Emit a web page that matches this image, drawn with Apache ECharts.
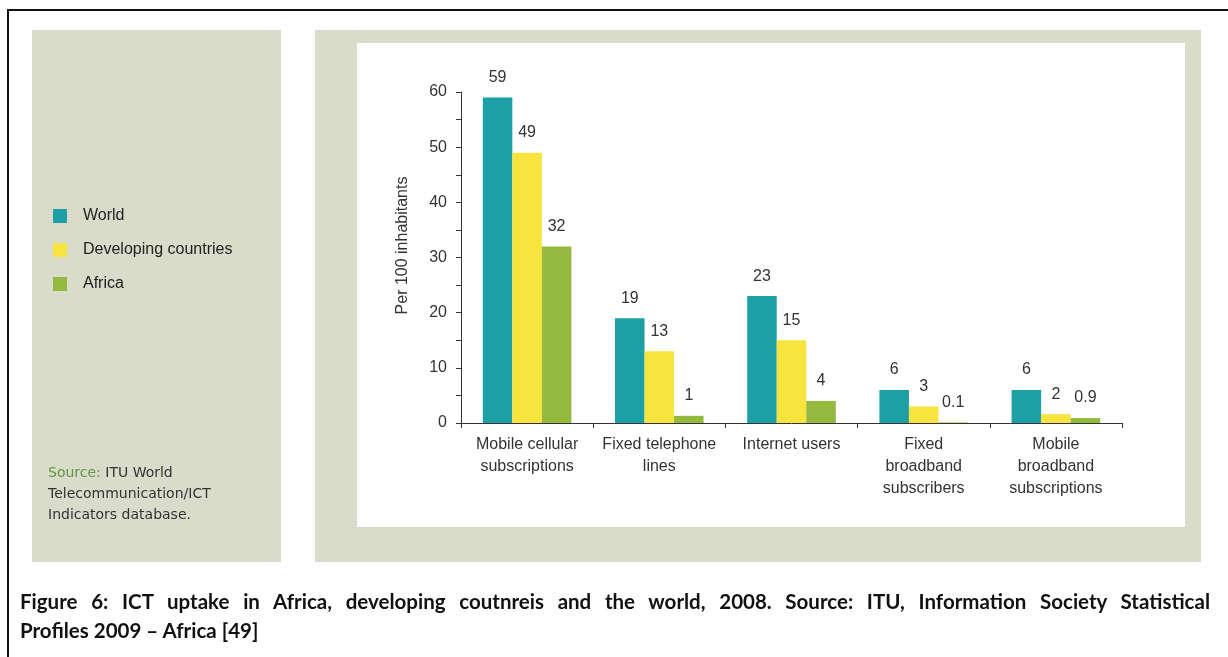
<!DOCTYPE html>
<html>
<head>
<meta charset="utf-8">
<script src="https://cdn.jsdelivr.net/npm/echarts@6/dist/echarts.min.js"></script>
<style>
html,body{margin:0;padding:0;background:#fff;}
#wrap{position:relative;width:1228px;height:657px;overflow:hidden;}
#c{position:absolute;left:0;top:0;width:1228px;height:657px;}
#cap{position:absolute;left:20px;top:587px;width:1190px;font-family:Lato,"Open Sans",sans-serif;font-weight:bold;font-size:20.5px;line-height:29px;color:#111;}
#cap .l1{text-align:justify;text-align-last:justify;}
</style>
</head>
<body>
<div id="wrap">
<div id="c"></div>
<div id="cap"><div class="l1" id="cap1"></div><div id="cap2"></div></div>
</div>
<script>
var categories = ['Mobile cellular\nsubscriptions', 'Fixed telephone\nlines', 'Internet users', 'Fixed\nbroadband\nsubscribers', 'Mobile\nbroadband\nsubscriptions'];
var seriesNames = ['World', 'Developing countries', 'Africa'];
var worldValues = [59, 19, 23, 6, 6];
var developingValues = [49, 13, 15, 3, 1.6];
var africaValues = [32, 1.3, 4, 0.1, 0.9];
var worldLabels = ['59', '19', '23', '6', '6'];
var developingLabels = ['49', '13', '15', '3', '2'];
var africaLabels = ['32', '1', '4', '0.1', '0.9'];
var yTicks = [0, 10, 20, 30, 40, 50, 60];
var captionLine1 = 'Figure 6: ICT uptake in Africa, developing coutnreis and the world, 2008. Source: ITU, Information Society Statistical';
var captionLine2 = 'Profiles 2009 \u2013 Africa [49]';

document.getElementById('cap1').textContent = captionLine1;
document.getElementById('cap2').textContent = captionLine2;

var colors = ['#1c9fa5', '#f7e43e', '#95b93e'];
var FONT = '"Liberation Sans Narrow", "Liberation Sans", Arial, sans-serif';

function makeSeries(name, values, labels, color) {
  return {
    name: name,
    type: 'bar',
    data: values,
    barGap: '0%',
    barCategoryGap: '33%',
    itemStyle: { color: color },
    label: {
      show: true,
      position: 'top',
      distance: 12,
      fontFamily: FONT,
      fontSize: 16,
      color: '#333',
      formatter: function (p) { return labels[p.dataIndex]; }
    }
  };
}

var chart = echarts.init(document.getElementById('c'), null, { renderer: 'canvas' });
chart.setOption({
  animation: false,
  backgroundColor: 'transparent',
  color: colors,
  graphic: [
    { type: 'rect', z: -10, shape: { x: 8, y: 10, width: 1260, height: 700 }, style: { fill: '#fff', stroke: '#111', lineWidth: 2 } },
    { type: 'rect', z: -9, shape: { x: 32, y: 30, width: 249, height: 532 }, style: { fill: '#d9dccb' } },
    { type: 'rect', z: -9, shape: { x: 315, y: 30, width: 886, height: 532 }, style: { fill: '#d9dccb' } },
    { type: 'rect', z: -8, shape: { x: 357, y: 43, width: 828, height: 484 }, style: { fill: '#fff' } },
    { type: 'text', left: 48, top: 463, style: { text: '{g|Source:} ITU World\nTelecommunication/ICT\nIndicators database.', fontFamily: '"DejaVu Sans", Verdana, sans-serif', fontSize: 14, lineHeight: 21, fill: '#333',
      rich: { g: { fill: '#5f9640', fontFamily: '"DejaVu Sans", Verdana, sans-serif', fontSize: 14 } } } }
  ],
  legend: {
    orient: 'vertical',
    left: 53,
    top: 208,
    padding: 0,
    itemWidth: 14,
    itemHeight: 14,
    itemGap: 18,
    icon: 'rect',
    data: seriesNames,
    textStyle: { fontFamily: FONT, fontSize: 16, color: '#222', padding: [0, 0, 0, 11] }
  },
  grid: { left: 461, right: 106, top: 92, bottom: 234, containLabel: false },
  xAxis: {
    type: 'category',
    data: categories,
    axisLine: { lineStyle: { color: '#333', width: 1 } },
    axisTick: { show: true, length: 5, lineStyle: { color: '#333' } },
    axisLabel: { fontFamily: FONT, fontSize: 16, lineHeight: 22, color: '#333', margin: 11, interval: 0 }
  },
  yAxis: {
    type: 'value',
    min: yTicks[0],
    max: yTicks[yTicks.length - 1],
    interval: 10,
    name: 'Per 100 inhabitants',
    nameLocation: 'middle',
    nameRotate: 90,
    nameGap: 50,
    nameTextStyle: { fontFamily: FONT, fontSize: 16, color: '#333', padding: [0, 0, 0, 24] },
    axisLine: { show: true, lineStyle: { color: '#333', width: 1 } },
    axisTick: { show: true, length: 5, lineStyle: { color: '#333' } },
    minorTick: { show: true, splitNumber: 2, length: 5, lineStyle: { color: '#333' } },
    splitLine: { show: false },
    axisLabel: { fontFamily: FONT, fontSize: 16, color: '#333', margin: 14 }
  },
  series: [
    makeSeries(seriesNames[0], worldValues, worldLabels, colors[0]),
    makeSeries(seriesNames[1], developingValues, developingLabels, colors[1]),
    makeSeries(seriesNames[2], africaValues, africaLabels, colors[2])
  ]
});
</script>
</body>
</html>
